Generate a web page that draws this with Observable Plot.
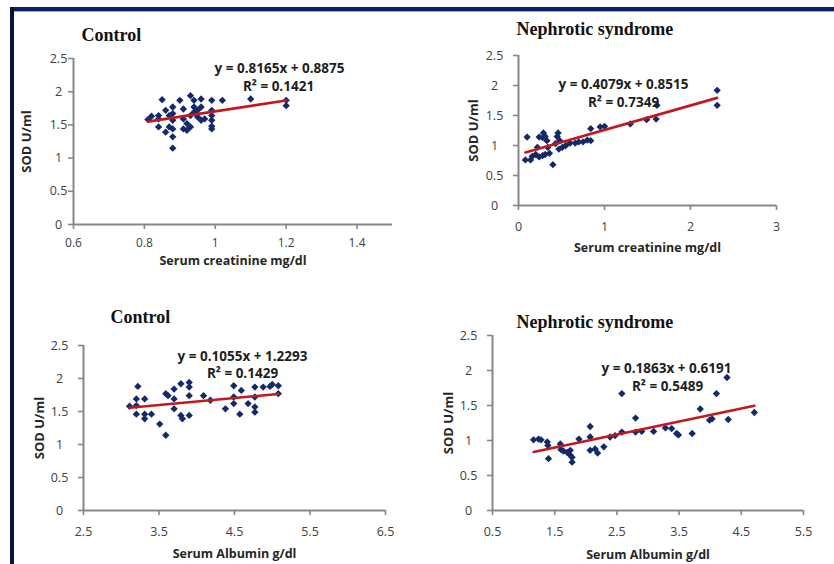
<!DOCTYPE html>
<html><head><meta charset="utf-8">
<script src="https://cdn.jsdelivr.net/npm/d3@7"></script>
<script src="https://cdn.jsdelivr.net/npm/@observablehq/plot@0.6"></script>
<style>
html,body{margin:0;padding:0;background:#fff;}
#page{position:relative;width:834px;height:564px;overflow:hidden;background:#fff;}
#page svg{position:absolute;}
.bar{position:absolute;z-index:5;}
</style></head><body>
<div id="page"></div>
<script>
// ---- data ----
const panelTitles = ["Control", "Nephrotic syndrome", "Control", "Nephrotic syndrome"];
const xAxisLabels = ["Serum creatinine mg/dl", "Serum creatinine mg/dl", "Serum Albumin g/dl", "Serum Albumin g/dl"];
const yAxisLabel = "SOD U/ml";
const sodTicks = [0, 0.5, 1, 1.5, 2, 2.5];
const xDomains = [[0.6, 1.5], [0, 3], [2.5, 6.5], [0.5, 5.5]];
const xTickValues = [[0.6, 0.8, 1, 1.2, 1.4], [0, 1, 2, 3], [2.5, 3.5, 4.5, 5.5, 6.5], [0.5, 1.5, 2.5, 3.5, 4.5, 5.5]];
const fitSlopes = [0.8165, 0.4079, 0.1055, 0.1863];
const fitIntercepts = [0.8875, 0.8515, 1.2293, 0.6191];
const rSquared = [0.1421, 0.7349, 0.1429, 0.5489];

const ctrlCreatinine = [0.81,0.82,0.84,0.85,0.84,0.84,0.86,0.87,0.88,0.88,0.88,0.88,0.87,0.86,0.88,0.88,0.90,0.91,0.91,0.92,0.91,0.92,0.93,0.93,0.94,0.94,0.94,0.93,0.95,0.95,0.96,0.96,0.96,0.97,0.99,0.99,0.99,0.99,0.99,0.99,1.02,1.10,1.20,1.20];
const ctrlCreatinineSOD = [1.58,1.63,1.64,1.88,1.47,1.59,1.72,1.64,1.77,1.67,1.57,1.44,1.47,1.39,1.32,1.15,1.87,1.74,1.59,1.52,1.44,1.42,1.47,1.94,1.87,1.77,1.69,1.64,1.72,1.62,1.77,1.89,1.57,1.59,1.87,1.72,1.64,1.57,1.48,1.44,1.87,1.89,1.87,1.79];

const nephCreatinine = [0.10,0.08,0.14,0.16,0.20,0.22,0.24,0.28,0.29,0.31,0.33,0.34,0.36,0.31,0.28,0.24,0.40,0.43,0.45,0.46,0.48,0.47,0.51,0.55,0.60,0.66,0.70,0.75,0.80,0.84,0.84,0.95,1.00,1.30,1.49,1.60,1.61,2.31,2.31];
const nephCreatinineSOD = [1.14,0.76,0.76,0.82,0.85,0.97,1.14,1.13,1.21,1.15,1.08,0.97,0.87,0.85,0.83,0.81,0.68,1.03,1.15,1.21,1.08,0.94,0.97,1.00,1.04,1.04,1.06,1.06,1.09,1.28,1.08,1.31,1.32,1.36,1.43,1.44,1.67,1.92,1.67];

const ctrlAlbumin = [3.11,3.22,3.20,3.31,3.20,3.20,3.31,3.31,3.40,3.51,3.59,3.59,3.62,3.70,3.79,3.90,3.90,3.90,3.70,3.70,3.79,3.81,3.90,4.09,4.18,4.38,4.49,4.49,4.49,4.59,4.57,4.68,4.77,4.77,4.77,4.77,4.88,4.97,5.00,5.08,5.08];
const ctrlAlbuminSOD = [1.58,1.88,1.69,1.69,1.59,1.46,1.46,1.39,1.46,1.31,1.14,1.77,1.74,1.84,1.92,1.94,1.87,1.74,1.69,1.54,1.44,1.39,1.44,1.74,1.67,1.54,1.89,1.72,1.62,1.82,1.46,1.62,1.87,1.72,1.57,1.49,1.87,1.88,1.91,1.89,1.77];

const nephAlbumin = [1.16,1.24,1.28,1.38,1.39,1.40,1.59,1.60,1.64,1.70,1.75,1.75,1.78,1.78,1.89,2.07,2.07,2.07,2.15,2.19,2.29,2.39,2.47,2.58,2.58,2.80,2.80,2.90,3.09,3.28,3.38,3.46,3.49,3.71,3.84,3.99,4.03,4.10,4.27,4.29,4.71];
const nephAlbuminSOD = [1.01,1.02,1.01,0.98,0.93,0.74,0.95,0.87,0.85,0.83,0.86,0.79,0.76,0.69,1.02,1.20,1.05,0.86,0.88,0.82,0.91,1.05,1.07,1.12,1.67,1.32,1.12,1.13,1.13,1.18,1.17,1.10,1.08,1.10,1.45,1.29,1.31,1.67,1.90,1.30,1.40];

const seriesX = [ctrlCreatinine, nephCreatinine, ctrlAlbumin, nephAlbumin];
const seriesY = [ctrlCreatinineSOD, nephCreatinineSOD, ctrlAlbuminSOD, nephAlbuminSOD];

// ---- layout (positions / styles) ----
const layout = [
  {left:10, top:12, width:400, height:262, mt:46, mr:18, mb:50, ml:63, yPad:10, xPad:9, xFont:12, title:[8,-17.3], eq:[206,14.7], r2:[205,32.7], xl:40, yl:-42.5},
  {left:420, top:12, width:400, height:262, mt:43, mr:44, mb:69, ml:98, yPad:19, xPad:12, xFont:12.5, title:[-2,-20.3], eq:[105,33], r2:[105,51], xl:46.7, yl:-41},
  {left:10, top:280, width:400, height:284, mt:65, mr:25, mb:54, ml:73, yPad:19, xPad:11.7, xFont:12.5, title:[27,-23], eq:[159,15.5], r2:[159,32], xl:47, yl:-40},
  {left:420, top:280, width:400, height:284, mt:55, mr:17, mb:54, ml:72, yPad:19, xPad:11.7, xFont:12.5, title:[24,-7.3], eq:[174,37], r2:[175,55], xl:48, yl:-40}
];

const AXIS = "#878787", TICKTXT = "#404040", DOT = "#13296b", FIT = "#c3191c";
const page = document.getElementById("page");

layout.forEach((L, i) => {
  const pts = seriesX[i].map((x, j) => ({x, y: seriesY[i][j]}));
  const ext = d3.extent(seriesX[i]);
  const fit = ext.map(x => ({x, y: fitSlopes[i] * x + fitIntercepts[i]}));
  const eqText = `y = ${fitSlopes[i].toFixed(4)}x + ${fitIntercepts[i].toFixed(4)}`;
  const r2Text = `R² = ${rSquared[i].toFixed(4)}`;
  const svg = Plot.plot({
    width: L.width, height: L.height,
    marginTop: L.mt, marginRight: L.mr, marginBottom: L.mb, marginLeft: L.ml,
    style: {fontFamily: "'Open Sans', sans-serif", background: "transparent", overflow: "visible"},
    x: {domain: xDomains[i]},
    y: {domain: [0, 2.5]},
    marks: [
      Plot.ruleY([0], {stroke: AXIS, strokeWidth: 2}),
      Plot.ruleX([xDomains[i][0]], {stroke: AXIS, strokeWidth: 2}),
      Plot.axisX({ticks: xTickValues[i], anchor: "bottom", tickSize: 5, tickPadding: L.xPad, stroke: AXIS, strokeWidth: 1.6, fill: TICKTXT, fontSize: L.xFont, label: null, tickFormat: d => String(d)}),
      Plot.axisY({ticks: sodTicks, anchor: "left", tickSize: 5, tickPadding: L.yPad, textAnchor: "middle", stroke: AXIS, strokeWidth: 1.6, fill: TICKTXT, fontSize: 12.5, label: null, tickFormat: d => String(d)}),
      Plot.dot(pts, {x: "x", y: "y", symbol: "diamond2", r: 3.3, fill: DOT, stroke: "none"}),
      Plot.line(fit, {x: "x", y: "y", stroke: FIT, strokeWidth: 2.6}),
      Plot.text([panelTitles[i]], {frameAnchor: "top-left", dx: L.title[0], dy: L.title[1], text: d => d, textAnchor: "start", lineAnchor: "bottom", fontFamily: "'Liberation Serif', serif", fontWeight: "bold", fontSize: 18, fill: "#111"}),
      Plot.text([eqText], {frameAnchor: "top-left", dx: L.eq[0], dy: L.eq[1], text: d => d, textAnchor: "middle", lineAnchor: "bottom", fontWeight: "bold", fontSize: 13.5, fill: "#1e1e1e"}),
      Plot.text([r2Text], {frameAnchor: "top-left", dx: L.r2[0], dy: L.r2[1], text: d => d, textAnchor: "middle", lineAnchor: "bottom", fontWeight: "bold", fontSize: 13.5, fill: "#1e1e1e"}),
      Plot.text([xAxisLabels[i]], {frameAnchor: "bottom", dy: L.xl, text: d => d, textAnchor: "middle", lineAnchor: "bottom", fontWeight: "bold", fontSize: 12.5, fill: "#262626"}),
      Plot.text([yAxisLabel], {frameAnchor: "left", dx: L.yl, rotate: -90, text: d => d, textAnchor: "middle", lineAnchor: "bottom", fontWeight: "bold", fontSize: 13, fill: "#262626"})
    ]
  });
  svg.style.left = L.left + "px";
  svg.style.top = L.top + "px";
  page.appendChild(svg);
});

// slide frame
const topBar = document.createElement("div");
topBar.className = "bar";
Object.assign(topBar.style, {left: "10px", top: "7px", width: "824px", height: "4px", background: "#0c1f5e"});
const topLine = document.createElement("div");
topLine.className = "bar";
Object.assign(topLine.style, {left: "10px", top: "11px", width: "824px", height: "1px", background: "#9aaacf"});
const leftBar = document.createElement("div");
leftBar.className = "bar";
Object.assign(leftBar.style, {left: "10px", top: "7px", width: "4px", height: "557px", background: "#0a1440"});
page.append(topBar, topLine, leftBar);
</script>
</body></html>
